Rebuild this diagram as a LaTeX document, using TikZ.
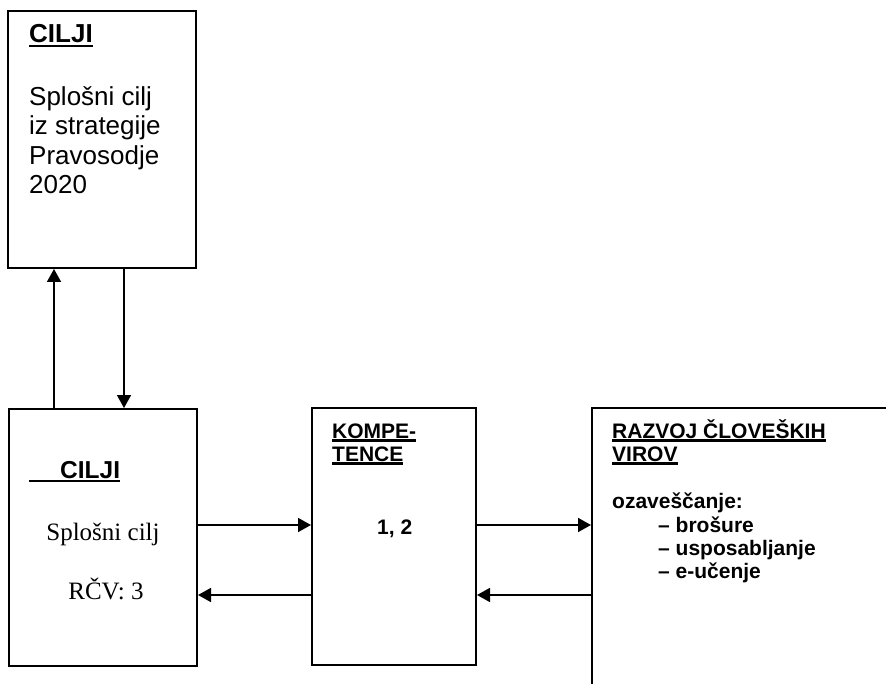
\documentclass[tikz,border=0pt]{standalone}
\usepackage{fontspec}
\setmainfont{Liberation Sans}
\newfontfamily\timesfont{Liberation Serif}
\usetikzlibrary{arrows.meta,calc,fit,positioning}
\newcommand\ulin[1]{\setbox0\hbox{#1}\rlap{\rule[-0.17em]{\wd0}{0.1em}}\box0}

\begin{document}
\begin{tikzpicture}[x=1pt, y=-1pt, arrow/.style={line width=1.7pt,-{Triangle[length=13pt,width=14pt]}}]
		\tikzset{box/.style={draw=black,line width=2pt,inner sep=0pt}}
		\tikzset{txt/.style={anchor=base west,inner sep=0pt,align=left}}
		\useasboundingbox (0,0) rectangle (886,684);
		\clip (0,0) rectangle (886,684);

		% Boxes
		\node[box, fit={(8,11) (196,268)}] (ciljitop) {};
		\node[box, fit={(9,409) (197,666)}] (ciljibot) {};
		\node[box, fit={(312,408) (476,665)}] (komp) {};
		\node[box, fit={(592,408) (910,710)}] (rcv) {};

		% Texts (multi-line ones sit on their last line)
		\node[txt, font=\fontsize{26}{30}\selectfont\bfseries] (ciljitoph) at (29,43) {\ulin{CILJI}};
		\node[txt, font=\fontsize{26}{29.5}\selectfont] (ciljitopt) at (29,194) {Splošni cilj\\iz strategije\\Pravosodje\\2020};

		\node[txt, font=\fontsize{24.5}{28}\selectfont\bfseries] (ciljiboth) at (29,478) {\ulin{\hspace{31pt}CILJI}};
		\node[anchor=base, inner sep=0pt, font=\fontsize{25}{28}\selectfont\timesfont] (ciljibott) at (103,540) {Splošni cilj};
		\node[anchor=base, inner sep=0pt, font=\fontsize{25}{28}\selectfont\timesfont] (rcvnum) at (106,599) {RČV: 3};

		\node[txt, font=\fontsize{21}{23}\selectfont\bfseries] (komph) at (332,461) {\ulin{KOMPE-}\\\ulin{TENCE}};
		\node[txt, font=\fontsize{21}{23}\selectfont\bfseries] (kompt) at (377,534) {1, 2};

		\node[txt, font=\fontsize{21}{23}\selectfont\bfseries] (rcvh) at (612,461) {\ulin{RAZVOJ ČLOVEŠKIH}\\\ulin{VIROV}};
		\node[txt, font=\fontsize{21}{23}\selectfont\bfseries] (rcvt) at (612,508) {ozaveščanje:};
		\node[txt, font=\fontsize{21}{23}\selectfont\bfseries] (rcvl) at (658,578) {– brošure\\– usposabljanje\\– e-učenje};

		% Arrows
		\draw [arrow] ($(ciljibot.north west)+(46,0)$) -- ($(ciljitop.south west)+(47,0)$);
		\draw [arrow] ($(ciljitop.south west)+(117,0)$) -- ($(ciljibot.north west)+(116,0)$);

		\draw [arrow] ($(ciljibot.north east)+(0,117)$) -- ($(komp.north west)+(0,118)$);
		\draw [arrow] ($(komp.north west)+(0,188)$) -- ($(ciljibot.north east)+(0,187)$);

		\draw [arrow] ($(komp.north east)+(0,118)$) -- ($(rcv.north west)+(0,118)$);
		\draw [arrow] ($(rcv.north west)+(0,188)$) -- ($(komp.north east)+(0,188)$);

	\end{tikzpicture}
\end{document}
